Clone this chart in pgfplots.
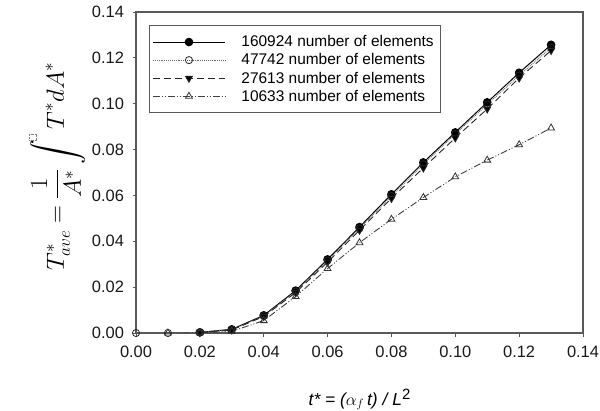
\documentclass[border=0pt]{standalone}
\usepackage{amsmath}
\usepackage{pgfplots}
\pgfplotsset{compat=1.18}
\usepackage{fontspec}
\setmainfont{Liberation Sans}
\begin{document}
\begin{tikzpicture}
\useasboundingbox (0,0) rectangle (600bp,411bp);
\begin{axis}[
  at={(136bp,78bp)}, anchor=south west,
  scale only axis, width=447bp, height=321bp,
  xmin=0, xmax=0.14, ymin=0, ymax=0.14,
  xtick={0,0.02,...,0.14}, ytick={0,0.02,...,0.14},
  axis line style={black!65, line width=1.2pt},
  tick style={black!65, line width=0.8pt},
  tick align=outside, major tick length=3.5bp,
  xtick pos=bottom, ytick pos=left,
  /pgf/number format/assume math mode=true,
  /pgf/number format/.cd, fixed, fixed zerofill, precision=2, /tikz/.cd,
  ticklabel style={font=\fontsize{16.5}{18}\selectfont, text=black!90},
  xticklabel style={yshift=-6bp},
  yticklabel style={xshift=-5bp},
  xlabel={\fontsize{17.5}{20}\selectfont\itshape t* = ($\alpha_f$\,t) / L\raisebox{0.55ex}{\fontsize{15}{15}\selectfont\upshape 2}},
  xlabel style={yshift=-25bp},
  ylabel={\fontsize{24}{28}\selectfont $T^*_{ave}=\dfrac{1}{A^*}\displaystyle\int^{\tikz\draw[densely dotted, gray, line width=0.4pt] (0,0) rectangle (6pt,7pt);} T^* dA^*$},
  ylabel style={yshift=0bp, xshift=6bp},
  legend style={at={(0.029,0.9595)}, anchor=north west, draw=black!65, line width=1pt,
    font=\fontsize{15.5}{18}\selectfont, inner xsep=3bp, inner ysep=7.5bp,
    nodes={inner ysep=2.7bp, inner xsep=4bp}, cells={anchor=west}},
  legend image code/.code={
    \draw[#1, mark repeat=2, mark phase=2] plot coordinates {(0bp,0bp) (36bp,0bp) (72bp,0bp)};
    \path (84bp,0bp);
  },
]
\addplot[black, solid, line width=1pt, mark=*, mark size=3.8pt, mark options={solid, fill=black}]
coordinates {(0.02,0.0003) (0.03,0.0016) (0.04,0.0077) (0.05,0.0185) (0.06,0.0321) (0.07,0.0462) (0.08,0.0605) (0.09,0.0744) (0.10,0.0875) (0.11,0.1006) (0.12,0.1135) (0.13,0.1257)};
\addlegendentry{160924 number of elements}
\addplot[black!60, densely dotted, line width=0.9pt, mark=o, mark size=3.6pt, mark options={solid, fill=white, draw=black!85, line width=0.8pt}]
coordinates {(0,0) (0.01,0) (0.02,0.0003) (0.03,0.0015) (0.04,0.0075) (0.05,0.0181) (0.06,0.0316) (0.07,0.0456) (0.08,0.0598) (0.09,0.0736) (0.10,0.0868) (0.11,0.0997) (0.12,0.1123) (0.13,0.1245)};
\addlegendentry{47742 number of elements}
\addplot[black!85, dash pattern=on 7pt off 4pt, line width=0.9pt, mark=triangle*, mark size=4pt, mark options={solid, fill=black, rotate=180}]
coordinates {(0.02,0.0002) (0.03,0.0013) (0.04,0.0072) (0.05,0.0176) (0.06,0.0309) (0.07,0.0448) (0.08,0.0587) (0.09,0.0720) (0.10,0.0851) (0.11,0.0977) (0.12,0.1112) (0.13,0.1232)};
\addlegendentry{27613 number of elements}
\addplot[black!75, dash pattern=on 7pt off 2pt on 1pt off 2pt on 1pt off 2pt, line width=0.9pt, mark=triangle, mark size=4pt, mark options={solid, fill=white, draw=black!80, line width=0.8pt}]
coordinates {(0.01,0) (0.02,0.0001) (0.03,0.0007) (0.04,0.0054) (0.05,0.0159) (0.06,0.0281) (0.07,0.0394) (0.08,0.0496) (0.09,0.0591) (0.10,0.0681) (0.11,0.0754) (0.12,0.0821) (0.13,0.0894)};
\addlegendentry{10633 number of elements}
\end{axis}
\end{tikzpicture}
\end{document}
